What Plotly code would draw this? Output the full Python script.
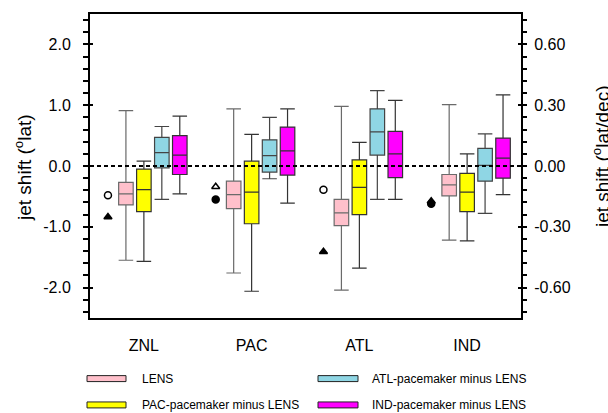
import plotly.graph_objects as go

categories = ["ZNL", "PAC", "ATL", "IND"]
series_names = ["LENS", "PAC-pacemaker minus LENS",
                "ATL-pacemaker minus LENS", "IND-pacemaker minus LENS"]

# box statistics per series (ZNL, PAC, ATL, IND)
lens_upper = [0.91, 0.94, 0.98, 1.01]
lens_q3 = [-0.27, -0.25, -0.55, -0.14]
lens_med = [-0.46, -0.47, -0.77, -0.31]
lens_q1 = [-0.64, -0.70, -0.98, -0.49]
lens_lower = [-1.55, -1.76, -2.04, -1.22]

pac_upper = [0.08, 0.52, 0.39, 0.20]
pac_q3 = [-0.05, 0.08, 0.10, -0.12]
pac_med = [-0.39, -0.43, -0.35, -0.43]
pac_q1 = [-0.75, -0.95, -0.80, -0.75]
pac_lower = [-1.57, -2.06, -1.68, -1.23]

atl_upper = [0.65, 0.80, 1.24, 0.53]
atl_q3 = [0.47, 0.43, 0.94, 0.29]
atl_med = [0.22, 0.17, 0.56, 0.01]
atl_q1 = [-0.03, -0.10, 0.18, -0.25]
atl_lower = [-0.55, -0.21, -0.55, -0.78]

ind_upper = [0.82, 0.94, 1.08, 1.17]
ind_q3 = [0.50, 0.64, 0.57, 0.46]
ind_med = [0.18, 0.25, 0.20, 0.13]
ind_q1 = [-0.14, -0.15, -0.19, -0.20]
ind_lower = [-0.46, -0.61, -0.55, -0.47]

# observed values (markers)
circle_vals = [-0.48, -0.55, -0.39, -0.62]
circle_filled = [False, True, False, True]
triangle_vals = [-0.84, -0.34, -1.41, -0.58]
triangle_filled = [True, False, True, True]

left_ticks = [-2, -1, 0, 1, 2]
left_ticktext = ["-2.0", "-1.0", "0.0", "1.0", "2.0"]
right_ticks = [-0.6, -0.3, 0.0, 0.3, 0.6]
right_ticktext = ["-0.60", "-0.30", "0.00", "0.30", "0.60"]

colors = ["#FFC0CB", "#FFFF00", "#8FD6E4", "#FF00FF"]
line_colors = ["#6a6a6a", "#333333", "#444444", "#333333"]

FONT = "Liberation Sans, Arial, Helvetica, sans-serif"
W, H = 608, 413
L, R, T, B = 90, 87, 12, 95
PW, PH = W - L - R, H - T - B

slot = 1.0 / 6.0
box_w = 0.135

stats = [
    (lens_q1, lens_med, lens_q3, lens_lower, lens_upper),
    (pac_q1, pac_med, pac_q3, pac_lower, pac_upper),
    (atl_q1, atl_med, atl_q3, atl_lower, atl_upper),
    (ind_q1, ind_med, ind_q3, ind_lower, ind_upper),
]

fig = go.Figure()
for k, (q1, med, q3, lo, hi) in enumerate(stats):
    xs = [i + (k - 1) * slot for i in range(len(categories))]
    fig.add_trace(go.Box(
        x=xs, q1=q1, median=med, q3=q3, lowerfence=lo, upperfence=hi,
        width=box_w, whiskerwidth=1, fillcolor=colors[k],
        line=dict(color=line_colors[k], width=1.2),
        name=series_names[k], showlegend=False, boxpoints=False,
    ))

mx = [i - 2 * slot for i in range(len(categories))]
fig.add_trace(go.Scatter(
    x=mx, y=circle_vals, mode="markers", showlegend=False,
    marker=dict(symbol=["circle" if f else "circle-open" for f in circle_filled],
                size=7, color="black", line=dict(color="black", width=1.5)),
))
fig.add_trace(go.Scatter(
    x=mx, y=triangle_vals, mode="markers", showlegend=False,
    marker=dict(symbol=["triangle-up" if f else "triangle-up-open" for f in triangle_filled],
                size=7, color="black", line=dict(color="black", width=1.5)),
))
fig.add_trace(go.Scatter(x=[], y=[], yaxis="y2", showlegend=False))

fig.add_shape(type="line", xref="paper", yref="y", x0=0, x1=1, y0=0, y1=0,
              line=dict(color="black", width=2, dash="4px,3px"), layer="above")


def px_x(p):
    return (p - L) / PW


def px_y(p):
    return (H - B - p) / PH


legend_items = [
    (0, 87, 126, 140, 379),
    (2, 318, 358, 370, 379),
    (1, 87, 126, 140, 405.5),
    (3, 318, 358, 370, 405.5),
]
for k, sx0, sx1, tx, cy in legend_items:
    fig.add_shape(type="rect", xref="paper", yref="paper",
                  x0=px_x(sx0), x1=px_x(sx1), y0=px_y(cy + 3), y1=px_y(cy - 3),
                  fillcolor=colors[k], line=dict(color="#222222", width=1))
    fig.add_annotation(xref="paper", yref="paper", x=px_x(tx), y=px_y(cy),
                       xanchor="left", yanchor="middle", showarrow=False,
                       text=series_names[k], font=dict(size=12, color="black", family=FONT))

fig.add_annotation(xref="paper", yref="paper", x=px_x(23), y=px_y(167),
                   xanchor="center", yanchor="middle", showarrow=False, textangle=-90,
                   text="jet shift (<sup>o</sup>lat)", font=dict(size=19, color="black", family=FONT))
fig.add_annotation(xref="paper", yref="paper", x=px_x(601), y=px_y(156),
                   xanchor="center", yanchor="middle", showarrow=False, textangle=-90,
                   text="jet shift (<sup>o</sup>lat/dec)", font=dict(size=19, color="black", family=FONT))

fig.update_layout(
    width=W, height=H,
    margin=dict(l=L, r=R, t=T, b=B, pad=0),
    paper_bgcolor="white", plot_bgcolor="white",
    boxmode="overlay",
    font=dict(family=FONT, size=16, color="black"),
    xaxis=dict(range=[-0.5, 3.5], tickmode="array", tickvals=list(range(len(categories))),
               ticktext=categories, ticks="", showgrid=False, zeroline=False,
               showline=True, mirror=True, linecolor="black", linewidth=2,
               ticklabelstandoff=12, tickfont=dict(size=16)),
    yaxis=dict(range=[-2.5, 2.5], tickmode="array", tickvals=left_ticks, ticktext=left_ticktext,
               ticks="inside", ticklen=3, tickwidth=1.5, tickcolor="black",
               minor=dict(tickmode="linear", tick0=0, dtick=0.2, ticks="outside",
                          ticklen=5, tickwidth=1.5, tickcolor="black", showgrid=False),
               showgrid=False, zeroline=False, showline=True, mirror=True,
               linecolor="black", linewidth=2, ticklabelstandoff=14, tickfont=dict(size=16)),
    yaxis2=dict(range=[-0.75, 0.75], overlaying="y", side="right", anchor="x",
                tickmode="array", tickvals=right_ticks, ticktext=right_ticktext,
                ticks="inside", ticklen=3, tickwidth=1.5, tickcolor="black",
                minor=dict(tickmode="linear", tick0=0, dtick=0.06, ticks="outside",
                           ticklen=4, tickwidth=1.5, tickcolor="black", showgrid=False),
                showgrid=False, zeroline=False, showline=True,
                linecolor="black", linewidth=2, ticklabelstandoff=8, tickfont=dict(size=16)),
)

fig.write_html("out.html", config={"displayModeBar": False},
               post_script="document.body.style.margin='0px';document.body.style.overflow='hidden';")
